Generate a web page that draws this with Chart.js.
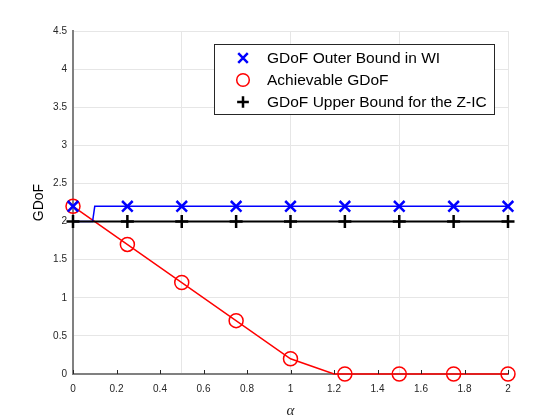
<!DOCTYPE html>
<html>
<head>
<meta charset="utf-8">
<script src="https://cdn.jsdelivr.net/npm/chart.js@4/dist/chart.umd.min.js"></script>
<style>
  html, body { margin: 0; padding: 0; background: #fff; }
  #wrap { width: 560px; height: 420px; }
</style>
</head>
<body>
<div id="wrap"><canvas id="gdof" width="560" height="420"></canvas></div>
<script>
// marker positions (alpha) and values
const alphaMarks = [0, 0.25, 0.5, 0.75, 1, 1.25, 1.5, 1.75, 2];
const outerMarks = [2.2, 2.2, 2.2, 2.2, 2.2, 2.2, 2.2, 2.2, 2.2];
const achMarks   = [2.2, 1.7, 1.2, 0.7, 0.2, 0, 0, 0, 0];
const upperMarks = [2, 2, 2, 2, 2, 2, 2, 2, 2];

// curves (breakpoints)
const outerLineX = [0, 0.09, 0.1, 2];
const outerLineY = [2, 2, 2.2, 2.2];
const achLineX   = [0, 1, 1.2, 2];
const achLineY   = [2.2, 0.2, 0, 0];
const upperLineX = [0, 2];
const upperLineY = [2, 2];

const LABELS = ['GDoF Outer Bound in WI', 'Achievable GDoF', 'GDoF Upper Bound for the Z-IC'];
const BLUE = '#0000ff', RED = '#ff0000', BLACK = '#000000';

const pts = (xs, ys) => xs.map((x, i) => ({x, y: ys[i]}));
const fmt = v => String(+(+v).toFixed(2));

function markSet(label, data, color, style, radius, width, order) {
  return {
    label, data, order, showLine: false,
    pointStyle: style, pointRadius: radius, pointHoverRadius: radius,
    borderColor: color, pointBorderColor: color, pointBackgroundColor: 'transparent',
    pointBorderWidth: width, inLegend: true,
  };
}
function lineSet(data, color, width, order) {
  return {
    data, order, showLine: true, pointRadius: 0,
    borderColor: color, borderWidth: width, backgroundColor: 'transparent', tension: 0,
  };
}

// legend box inside the axes, like the original figure
const boxLegend = {
  id: 'boxLegend',
  afterDraw(chart) {
    const ctx = chart.ctx;
    const items = chart.data.datasets.filter(d => d.inLegend);
    const x0 = 214, y0 = 44, w = 280, h = 70;
    ctx.save();
    ctx.fillStyle = '#fff';
    ctx.fillRect(x0, y0, w, h);
    ctx.strokeStyle = '#262626';
    ctx.lineWidth = 1;
    ctx.strokeRect(x0 + 0.5, y0 + 0.5, w, h);
    ctx.font = '15.5px "Liberation Sans", Arial, sans-serif';
    ctx.textBaseline = 'middle';
    LABELS.forEach((lab, i) => {
      const d = items.find(it => it.label === lab);
      const y = y0 + 14 + i * 22;
      ctx.strokeStyle = d.pointBorderColor;
      ctx.fillStyle = 'transparent';
      ctx.lineWidth = d.pointBorderWidth;
      Chart.helpers.drawPoint(ctx, {pointStyle: d.pointStyle, radius: d.pointRadius * 0.9,
        rotation: 0, borderWidth: d.pointBorderWidth}, x0 + 29, y);
      ctx.fillStyle = '#000';
      ctx.fillText(lab, x0 + 53, y + 1);
    });
    ctx.restore();
  }
};

// inward tick marks on the x axis
const innerTicks = {
  id: 'innerTicks',
  afterDatasetsDraw(chart) {
    const sx = chart.scales.x, ctx = chart.ctx, b = chart.chartArea.bottom;
    ctx.save();
    ctx.strokeStyle = '#262626';
    ctx.lineWidth = 1;
    sx.ticks.forEach(t => {
      const px = Math.round(sx.getPixelForValue(t.value)) + 0.5;
      ctx.beginPath(); ctx.moveTo(px, b); ctx.lineTo(px, b - 4); ctx.stroke();
    });
    ctx.restore();
  }
};

new Chart(document.getElementById('gdof'), {
  type: 'line',
  data: {
    datasets: [
      markSet(LABELS[2], pts(alphaMarks, upperMarks), BLACK, 'cross', 6.5, 2.5, 0),
      lineSet(pts(upperLineX, upperLineY), BLACK, 2, 1),
      markSet(LABELS[0], pts(alphaMarks, outerMarks), BLUE, 'crossRot', 7.5, 2.5, 2),
      lineSet(pts(outerLineX, outerLineY), BLUE, 1.5, 3),
      markSet(LABELS[1], pts(alphaMarks, achMarks), RED, 'circle', 7, 1.5, 4),
      lineSet(pts(achLineX, achLineY), RED, 1.5, 5),
    ]
  },
  options: {
    responsive: false,
    animation: false,
    clip: false,
    layout: { padding: { top: 31, right: 52, left: 0, bottom: 0 } },
    plugins: { legend: { display: false }, tooltip: { enabled: false } },
    scales: {
      x: {
        type: 'linear', min: 0, max: 2,
        afterFit: s => { s.height = 46; },
        ticks: { stepSize: 0.2, callback: fmt, color: '#262626', padding: 9,
                 maxRotation: 0, font: { family: '"Liberation Sans", Arial, sans-serif', size: 10 } },
        grid: { display: false, drawTicks: false },
        border: { display: true, color: '#808080', width: 2 },
        title: { display: true, text: 'α', color: '#262626', padding: { top: 0, bottom: 0 },
                 font: { family: '"Liberation Serif", "DejaVu Serif", serif', size: 15, style: 'italic' } },
      },
      xg: {
        type: 'linear', position: 'top', min: 0, max: 2,
        afterFit: s => { s.height = 0; },
        ticks: { display: false, stepSize: 0.5 },
        grid: { color: '#e6e6e6', lineWidth: 1, drawTicks: false },
        border: { display: false },
      },
      y: {
        min: 0, max: 4.5,
        afterFit: s => { s.width = 73; },
        ticks: { stepSize: 0.5, callback: fmt, color: '#262626', padding: 6,
                 font: { family: '"Liberation Sans", Arial, sans-serif', size: 10 } },
        grid: { color: '#e6e6e6', lineWidth: 1, drawTicks: false },
        border: { display: true, color: '#808080', width: 2 },
        title: { display: true, text: 'GDoF', color: '#000', padding: { top: 31, bottom: 0 },
                 font: { family: '"Liberation Sans", Arial, sans-serif', size: 14 } },
      }
    }
  },
  plugins: [innerTicks, boxLegend]
});
</script>
</body>
</html>
